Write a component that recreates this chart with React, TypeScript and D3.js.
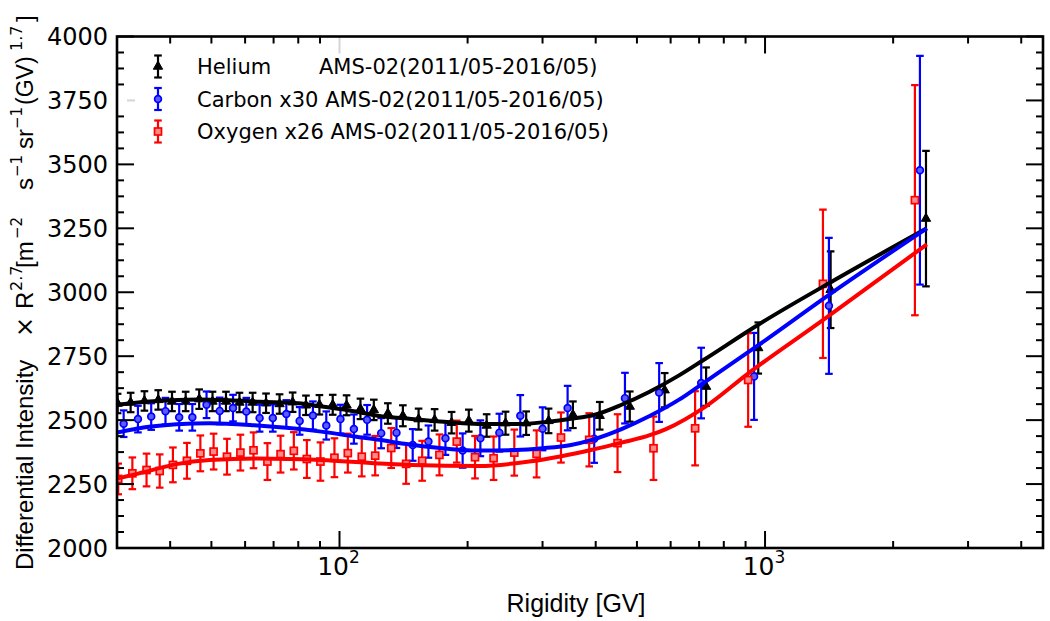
import React from 'react';
import * as d3 from 'd3';

// ---------- data ----------
const heliumR = [30.1, 32.3, 34.8, 37.5, 40.4, 43.5, 46.8, 50.3, 54.1, 58.2, 62.5, 67.2, 72.3, 77.6, 83.4, 89.7, 96.4, 103.9, 112, 120.4, 129.9, 140.9, 153.4, 167.3, 183.4, 201.3, 221.7, 245.6, 274.6, 310, 353.6, 408.8, 481, 581, 727, 964, 1426, 2389];
const heliumV = [2565, 2569, 2575, 2579, 2573, 2573, 2582, 2573, 2573, 2569, 2569, 2566, 2563, 2570, 2558, 2560, 2560, 2558, 2544, 2540, 2526, 2517, 2504, 2501, 2490, 2498, 2479, 2488, 2488, 2497, 2521, 2517, 2553, 2617, 2631, 2782, 3010, 3288];
const heliumErr = [38, 38, 38, 38, 38, 38, 38, 38, 38, 38, 38, 38, 38, 38, 38, 38, 39, 39, 40, 40, 40, 41, 41, 42, 42, 43, 44, 45, 46, 48, 52, 54, 59, 67, 75, 100, 150, 265];

const carbonR = [31.1, 33.6, 36.1, 39.0, 42.0, 45.1, 48.7, 52.3, 56.2, 60.4, 64.9, 69.7, 75.0, 80.6, 86.6, 93.1, 100.5, 108.1, 116.1, 125.3, 136.1, 148.6, 161.8, 177.4, 194.7, 214.3, 237.5, 266.0, 300.1, 343.6, 396.8, 468.6, 563.9, 707.9, 942.4, 1413, 2312];
const carbonV = [2486, 2504, 2514, 2535, 2511, 2511, 2560, 2536, 2547, 2534, 2508, 2508, 2524, 2497, 2518, 2479, 2504, 2465, 2501, 2449, 2451, 2403, 2416, 2429, 2381, 2429, 2451, 2517, 2466, 2547, 2427, 2586, 2608, 2645, 2671, 2947, 3477];
const carbonErr = [52, 52, 52, 52, 52, 52, 52, 52, 52, 53, 53, 53, 54, 54, 55, 55, 56, 57, 58, 59, 60, 62, 63, 65, 67, 70, 74, 81, 84, 87, 94, 99, 115, 138, 170, 266, 447];

const oxygenR = [30.2, 32.6, 35.2, 37.8, 40.6, 43.8, 47.1, 50.6, 54.4, 58.5, 62.8, 67.7, 72.7, 78.1, 83.8, 90.2, 97.3, 104.6, 112.8, 121.3, 132.3, 143.4, 156.4, 171.7, 188.6, 208.2, 230.2, 257.5, 290.5, 331.5, 386.2, 450.2, 546.9, 685, 912.6, 1368, 2250];
const oxygenV = [2270, 2292, 2305, 2301, 2325, 2341, 2370, 2377, 2357, 2373, 2382, 2338, 2367, 2380, 2348, 2338, 2353, 2371, 2357, 2361, 2391, 2329, 2341, 2364, 2416, 2355, 2351, 2373, 2368, 2432, 2423, 2410, 2390, 2468, 2657, 3033, 3360];
const oxygenErr = [60, 62, 64, 65, 68, 70, 70, 70, 70, 70, 70, 72, 72, 73, 74, 75, 76, 76, 77, 77, 78, 78, 78, 80, 82, 83, 85, 90, 92, 98, 104, 113, 124, 145, 183, 290, 450];

const heliumFitR = [28, 30, 35, 40, 47, 55, 65, 80, 91, 108, 124, 142, 172, 213, 264, 306, 350, 400, 460, 534, 628, 712, 968, 1447, 2400];
const heliumFitV = [2555, 2560, 2572, 2578, 2581, 2578, 2572, 2566, 2553, 2535, 2516, 2507, 2495, 2485, 2485, 2493, 2505, 2522, 2560, 2610, 2675, 2732, 2875, 3045, 3250];

const carbonFitR = [28, 30, 34.6, 41.4, 49.5, 63, 75, 90.6, 108.4, 124, 142, 170, 213, 260, 300, 350, 392, 460, 534, 628, 712, 968, 1413, 2400];
const carbonFitV = [2445, 2452, 2471, 2484, 2488, 2480, 2470, 2455, 2436, 2423, 2408, 2392, 2381, 2383, 2390, 2403, 2423, 2465, 2515, 2580, 2642, 2795, 2990, 3250];

const oxygenFitR = [28, 30, 34.6, 41.4, 49.5, 64, 90.6, 124, 148, 213, 279, 330, 392, 460, 534, 585, 729, 915, 1365, 2400];
const oxygenFitV = [2262, 2272, 2296, 2328, 2344, 2350, 2344, 2330, 2325, 2321, 2338, 2358, 2384, 2412, 2440, 2465, 2556, 2684, 2890, 3187];

const seriesNames = ['Helium', 'Carbon x30', 'Oxygen x26'];
const legendSource = 'AMS-02(2011/05-2016/05)';
const yTicks = [2000, 2250, 2500, 2750, 3000, 3250, 3500, 3750, 4000];
const xMajorExp = [2, 3];

// ---------- layout ----------
const W = 1050, H = 621;
const L = 117, R = 1043, T = 36.5, B = 548;

type Series = {
  name: string; color: string; fill: string; marker: 'tri' | 'circ' | 'sq';
  r: number[]; v: number[]; e: number[]; fr: number[]; fv: number[];
};

const series: Series[] = [
  { name: seriesNames[0], color: '#000000', fill: '#000000', marker: 'tri', r: heliumR, v: heliumV, e: heliumErr, fr: heliumFitR, fv: heliumFitV },
  { name: seriesNames[1], color: '#0000ff', fill: '#5c5cff', marker: 'circ', r: carbonR, v: carbonV, e: carbonErr, fr: carbonFitR, fv: carbonFitV },
  { name: seriesNames[2], color: '#ff0000', fill: '#ff8a8a', marker: 'sq', r: oxygenR, v: oxygenV, e: oxygenErr, fr: oxygenFitR, fv: oxygenFitV },
];

function Marker({ kind, cx, cy, color, fill }: { kind: string; cx: number; cy: number; color: string; fill: string }) {
  if (kind === 'tri') {
    const p = d3.symbol().type(d3.symbolTriangle).size(38)();
    return <path d={p || ''} transform={`translate(${cx},${cy})`} fill={fill} stroke={color} strokeWidth={1} />;
  }
  if (kind === 'circ') {
    return <circle cx={cx} cy={cy} r={3.4} fill={fill} stroke={color} strokeWidth={1.7} />;
  }
  return <rect x={cx - 3.5} y={cy - 3.5} width={7} height={7} fill={fill} stroke={color} strokeWidth={1.7} />;
}

export default function App() {
  const x = d3.scaleLog().domain([30, 4500]).range([L, R]);
  const y = d3.scaleLinear().domain([2000, 4000]).range([B, T]);

  const line = d3.line<[number, number]>()
    .x(d => x(d[0]))
    .y(d => y(d[1]))
    .curve(d3.curveMonotoneX);

  const minorX: number[] = [];
  [10, 100, 1000].forEach(dec => {
    for (let k = 2; k <= 9; k++) {
      const v = dec * k;
      if (v > 30 && v < 4500) minorX.push(v);
    }
  });
  const majorX = xMajorExp.map(e => Math.pow(10, e));
  const minorY: number[] = [];
  for (let v = 2000; v <= 4000; v += 62.5) if (!yTicks.includes(v)) minorY.push(v);

  const tickFont = 'DejaVu Sans';
  const labFont = 'Liberation Sans, Arial, sans-serif';
  const MAJ = 17, MIN = 7;
  const grayTop = 100;
  const grayLeft = 3750;

  const ylabelParts: { t: string; x: number; f: string; s: number; sup?: boolean }[] = [
    { t: 'Differential Intensity', x: 0, f: labFont, s: 24 },
    { t: '\u00d7', x: 233, f: tickFont, s: 24 },
    { t: 'R', x: 261, f: labFont, s: 24 },
    { t: '2.7', x: 279, f: tickFont, s: 16, sup: true },
    { t: '[m', x: 302, f: labFont, s: 24 },
    { t: '\u22122', x: 331, f: tickFont, s: 15, sup: true },
    { t: 's', x: 380, f: labFont, s: 24 },
    { t: '\u22121', x: 393, f: tickFont, s: 15, sup: true },
    { t: 'sr', x: 421, f: labFont, s: 24 },
    { t: '\u22121', x: 441, f: tickFont, s: 15, sup: true },
    { t: '(GV)', x: 465, f: labFont, s: 23 },
    { t: '1.7', x: 519, f: tickFont, s: 16, sup: true },
    { t: ']', x: 548, f: labFont, s: 24 },
  ];

  return (
    <svg width={W} height={H} style={{ position: 'absolute', left: 0, top: 0, background: '#fff' }}>
      <defs>
        <clipPath id="plotclip">
          <rect x={L} y={T} width={R - L} height={B - T} />
        </clipPath>
      </defs>
      <rect x={0} y={0} width={W} height={H} fill="#fff" />

      <g clipPath="url(#plotclip)">
        {series.map(s => (
          <g key={s.name + 'eb'}>
            {s.r.map((r, i) => {
              const cx = x(r);
              const y1 = y(s.v[i] + s.e[i]);
              const y2 = y(s.v[i] - s.e[i]);
              return (
                <g key={i} stroke={s.color} strokeWidth={2.2}>
                  <line x1={cx} x2={cx} y1={y1} y2={y2} />
                  <line x1={cx - 3.8} x2={cx + 3.8} y1={y1} y2={y1} />
                  <line x1={cx - 3.8} x2={cx + 3.8} y1={y2} y2={y2} />
                </g>
              );
            })}
            {s.r.map((r, i) => (
              <Marker key={'m' + i} kind={s.marker} cx={x(r)} cy={y(s.v[i])} color={s.color} fill={s.fill} />
            ))}
          </g>
        ))}
        {series.map(s => (
          <path key={s.name + 'fit'} d={line(s.fr.map((r, i) => [r, s.fv[i]] as [number, number])) || ''}
            fill="none" stroke={s.color} strokeWidth={4} strokeLinejoin="round" />
        ))}
      </g>

      <g stroke="#000" strokeWidth={2}>
        {minorX.map(v => (
          <g key={'mx' + v}>
            <line x1={x(v)} x2={x(v)} y1={B} y2={B - MIN} />
            <line x1={x(v)} x2={x(v)} y1={T} y2={T + MIN} />
          </g>
        ))}
        {majorX.map(v => (
          <g key={'Mx' + v}>
            <line x1={x(v)} x2={x(v)} y1={B} y2={B - MAJ} />
            <line x1={x(v)} x2={x(v)} y1={T} y2={T + MAJ} stroke={v === grayTop ? '#d4d4d4' : '#000'} />
          </g>
        ))}
        {minorY.map(v => (
          <g key={'my' + v}>
            <line x1={L} x2={L + MIN} y1={y(v)} y2={y(v)} />
            <line x1={R} x2={R - MIN} y1={y(v)} y2={y(v)} />
          </g>
        ))}
        {yTicks.map(v => (
          <g key={'My' + v}>
            {v === grayLeft
              ? <line x1={L + 10} x2={L + MAJ + 1} y1={y(v)} y2={y(v)} stroke="#d4d4d4" />
              : <line x1={L} x2={L + MAJ} y1={y(v)} y2={y(v)} />}
            <line x1={R} x2={R - MAJ} y1={y(v)} y2={y(v)} />
          </g>
        ))}
      </g>

      <rect x={L} y={T} width={R - L} height={B - T} fill="none" stroke="#000" strokeWidth={2.6} />

      {yTicks.map(v => (
        <text key={'yl' + v} x={108} y={y(v) + 8.7} textAnchor="end" fontFamily={tickFont} fontSize={24} fill="#000">{v}</text>
      ))}

      {xMajorExp.map(e => (
        <text key={'xl' + e} x={x(Math.pow(10, e)) - 1} y={575} textAnchor="middle" fontFamily={tickFont} fontSize={25} fill="#000">
          <tspan>10</tspan>
          <tspan dy={-12.5} fontSize={17}>{e}</tspan>
        </text>
      ))}

      <text x={(L + R) / 2 - 4} y={611.5} textAnchor="middle" fontFamily={labFont} fontSize={25} fill="#000">Rigidity [GV]</text>

      <text transform="translate(33,570) rotate(-90)" fill="#000">
        {ylabelParts.map((p, i) => (
          <tspan key={i} x={p.x} y={p.sup ? -11 : 0} fontFamily={p.f} fontSize={p.s}>{p.t}</tspan>
        ))}
      </text>

      {series.map((s, i) => {
        const ly = 66.5 + i * 32.5;
        const lx = 158;
        return (
          <g key={'lg' + i}>
            <g stroke={s.color} strokeWidth={2.2}>
              <line x1={lx} x2={lx} y1={ly - 11} y2={ly + 11} />
              <line x1={lx - 3.8} x2={lx + 3.8} y1={ly - 11} y2={ly - 11} />
              <line x1={lx - 3.8} x2={lx + 3.8} y1={ly + 11} y2={ly + 11} />
            </g>
            <Marker kind={s.marker} cx={lx} cy={ly} color={s.color} fill={s.fill} />
            {i === 0 ? (
              <>
                <text x={197} y={ly + 7.6} fontFamily={tickFont} fontSize={21} fill="#000">{s.name}</text>
                <text x={319} y={ly + 7.6} fontFamily={tickFont} fontSize={21} fill="#000">{legendSource}</text>
              </>
            ) : (
              <text x={197} y={ly + 7.6} fontFamily={tickFont} fontSize={21} fill="#000">{s.name + ' ' + legendSource}</text>
            )}
          </g>
        );
      })}
    </svg>
  );
}
